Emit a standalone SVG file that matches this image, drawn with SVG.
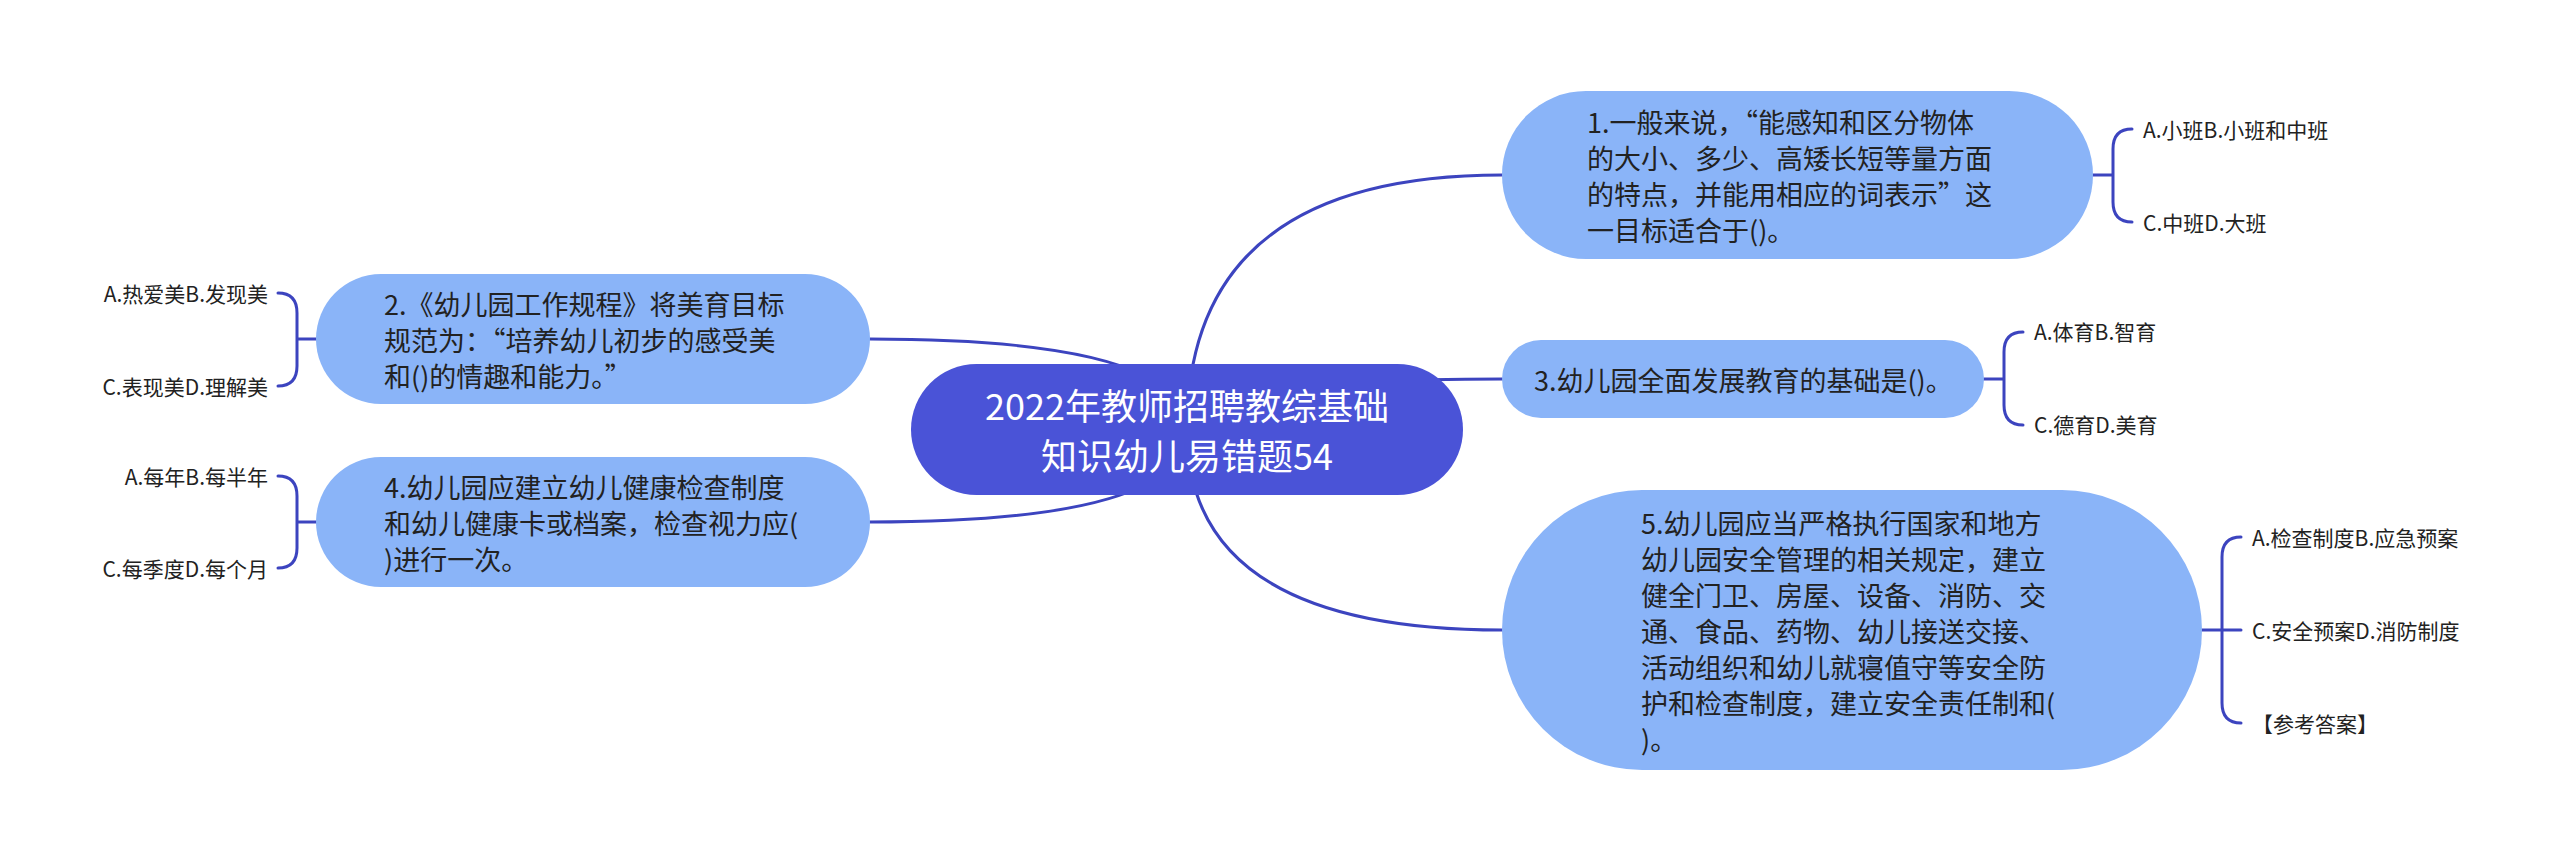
<svg xmlns="http://www.w3.org/2000/svg" width="2560" height="861" viewBox="0 0 2560 861">
<style>
.line{fill:none;stroke:#3c44bf;stroke-width:3;stroke-linecap:round}
.sub{fill:#8ab4f8}
.root{fill:#4a53d7}
.t{font-family:"Noto Sans CJK SC","Noto Sans",sans-serif;font-size:27px;fill:#222;dominant-baseline:central}
.rt{font-family:"Noto Sans CJK SC","Noto Sans",sans-serif;font-size:36px;fill:#fff;dominant-baseline:central;text-anchor:middle}
.leaf{font-family:"Noto Sans CJK SC","Noto Sans",sans-serif;font-size:21px;fill:#222;dominant-baseline:central}
.end{text-anchor:end}
</style>
<rect width="2560" height="861" fill="#fff"/>
<g id="connectors">
<path class="line" d="M1187,430 Q1187,175 1502,175"/>
<path class="line" d="M1187,430 Q1187,379 1502,379"/>
<path class="line" d="M1187,430 Q1187,630 1502,630"/>
<path class="line" d="M1187,430 Q1187,339 870,339"/>
<path class="line" d="M1187,430 Q1187,522 870,522"/>
<path class="line" d="M2093,175 L2113,175 M2132,129 Q2113,129 2113,149 L2113,202 Q2113,222 2132,222"/>
<path class="line" d="M1984,379 L2004,379 M2023,332 Q2004,332 2004,352 L2004,405 Q2004,425 2023,425"/>
<path class="line" d="M2202,630 L2241,630 M2241,537 Q2222,537 2222,557 L2222,703 Q2222,723 2241,723"/>
<path class="line" d="M316,339 L297,339 M278,293 Q297,293 297,313 L297,366 Q297,386 278,386"/>
<path class="line" d="M316,522 L297,522 M278,476 Q297,476 297,496 L297,548 Q297,568 278,568"/>
</g>
<g id="root">
<rect class="root" x="911" y="364" width="552" height="131" rx="65.5"/>
<text class="rt" x="1187" y="404">2022年教师招聘教综基础</text>
<text class="rt" x="1187" y="454">知识幼儿易错题54</text>
</g>
<g id="node1">
<rect class="sub" x="1502" y="91" width="591" height="168" rx="84"/>
<text class="t" x="1587" y="121">1.一般来说，“能感知和区分物体</text>
<text class="t" x="1587" y="157">的大小、多少、高矮长短等量方面</text>
<text class="t" x="1587" y="193">的特点，并能用相应的词表示”这</text>
<text class="t" x="1587" y="229">一目标适合于()。</text>
</g>
<g id="node1-leaves">
<text class="leaf" x="2143" y="129">A.小班B.小班和中班</text>
<text class="leaf" x="2143" y="222">C.中班D.大班</text>
</g>
<g id="node3">
<rect class="sub" x="1502" y="340" width="482" height="78" rx="39"/>
<text class="t" x="1534" y="379">3.幼儿园全面发展教育的基础是()。</text>
</g>
<g id="node3-leaves">
<text class="leaf" x="2034" y="331">A.体育B.智育</text>
<text class="leaf" x="2034" y="424">C.德育D.美育</text>
</g>
<g id="node5">
<rect class="sub" x="1502" y="490" width="700" height="280" rx="140"/>
<text class="t" x="1641" y="522">5.幼儿园应当严格执行国家和地方</text>
<text class="t" x="1641" y="558">幼儿园安全管理的相关规定，建立</text>
<text class="t" x="1641" y="594">健全门卫、房屋、设备、消防、交</text>
<text class="t" x="1641" y="630">通、食品、药物、幼儿接送交接、</text>
<text class="t" x="1641" y="666">活动组织和幼儿就寝值守等安全防</text>
<text class="t" x="1641" y="702">护和检查制度，建立安全责任制和(</text>
<text class="t" x="1641" y="738">)。</text>
</g>
<g id="node5-leaves">
<text class="leaf" x="2252" y="537">A.检查制度B.应急预案</text>
<text class="leaf" x="2252" y="630">C.安全预案D.消防制度</text>
<text class="leaf" x="2252" y="723">【参考答案】</text>
</g>
<g id="node2">
<rect class="sub" x="316" y="274" width="554" height="130" rx="65"/>
<text class="t" x="384" y="303">2.《幼儿园工作规程》将美育目标</text>
<text class="t" x="384" y="339">规范为：“培养幼儿初步的感受美</text>
<text class="t" x="384" y="375">和()的情趣和能力。”</text>
</g>
<g id="node2-leaves">
<text class="leaf end" x="268" y="293">A.热爱美B.发现美</text>
<text class="leaf end" x="268" y="386">C.表现美D.理解美</text>
</g>
<g id="node4">
<rect class="sub" x="316" y="457" width="554" height="130" rx="65"/>
<text class="t" x="384" y="486">4.幼儿园应建立幼儿健康检查制度</text>
<text class="t" x="384" y="522">和幼儿健康卡或档案，检查视力应(</text>
<text class="t" x="384" y="558">)进行一次。</text>
</g>
<g id="node4-leaves">
<text class="leaf end" x="268" y="476">A.每年B.每半年</text>
<text class="leaf end" x="268" y="568">C.每季度D.每个月</text>
</g>
</svg>
